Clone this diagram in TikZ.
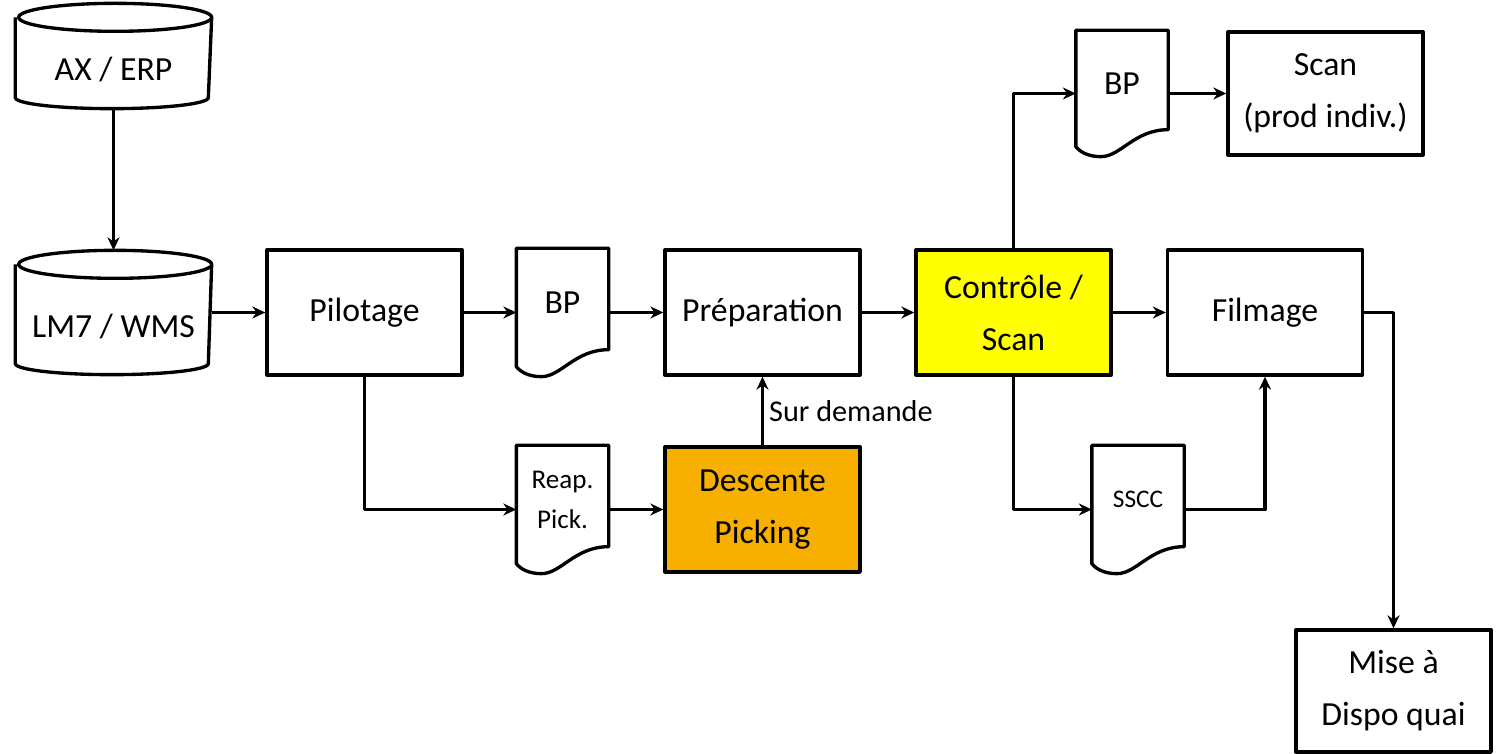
\documentclass[tikz,border=0pt]{standalone}
\usepackage{fontspec}
\setmainfont{Carlito}
\usetikzlibrary{arrows.meta}
\definecolor{jaune}{RGB}{255,255,0}
\definecolor{ambre}{RGB}{247,176,0}
\begin{document}
\begin{tikzpicture}[line join=round,>={Stealth[length=1.3mm,width=1.2mm]},line width=0.95pt,
	font=\fontsize{9.6}{14.8}\selectfont,
	proc/.style={draw,minimum width=1.95cm,minimum height=1.25cm,align=center,inner sep=0pt},
	docu/.style={minimum width=0.89cm,minimum height=1.25cm,align=center,inner sep=0pt,
		execute at end node={\rule[-2mm]{0pt}{2mm}}},
	dbase/.style={minimum width=1.93cm,align=center,inner sep=0pt}]
	\useasboundingbox (0,0) rectangle (15.01,-7.54);
	% bases de donnees
	\node[dbase,minimum height=0.74cm] (erp) at (1.135,-0.70) {AX / ERP};
	\node[dbase,minimum height=0.93cm] (wms) at (1.135,-3.265) {LM7 / WMS};
	\foreach \c in {erp,wms}
	{\draw ([yshift=1.4mm]\c.north west) -- ([yshift=1.1mm]\c.south west) arc[start angle=180,end angle=360,x radius=0.965cm,y radius=1.1mm] -- ([yshift=1.4mm]\c.north east) arc[start angle=0,end angle=360,x radius=0.965cm,y radius=1.4mm];}
	% etapes
	\node[proc] (pilot) at (3.645,-3.125) {Pilotage};
	\node[docu] (bpA) at (5.625,-3.125) {BP};
	\node[proc] (prep) at (7.625,-3.125) {Préparation};
	\node[proc,fill=jaune] (ctrl) at (10.135,-3.125) {Contrôle /\\Scan};
	\node[proc] (film) at (12.65,-3.125) {Filmage};
	\node[docu,minimum height=1.23cm] (bpB) at (11.22,-0.935) {BP};
	\node[proc,minimum height=1.23cm] (scan) at (13.255,-0.935) {Scan\\(prod indiv.)};
	\node[docu,font=\fontsize{7.7}{11.4}\selectfont] (reap) at (5.625,-5.095) {Reap.\\Pick.};
	\node[proc,fill=ambre] (desc) at (7.625,-5.095) {Descente\\Picking};
	\node[docu,font=\fontsize{7.2}{9}\selectfont] (sscc) at (11.38,-5.095) {SSCC};
	\node[proc,minimum height=1.22cm] (mise) at (13.935,-6.91) {Mise à\\Dispo quai};
	% documents (bas ondule)
	\foreach \d in {bpA,bpB,reap,sscc}
	{\draw (\d.north west) -- (\d.north east) -- ([yshift=2.7mm]\d.south east) .. controls ([xshift=-3.4mm,yshift=2.7mm]\d.south east) and ([xshift=4.5mm]\d.south west) .. ([xshift=2.5mm]\d.south west) .. controls ([xshift=1.2mm]\d.south west) and ([xshift=0.4mm,yshift=0.5mm]\d.south west) .. ([yshift=1mm]\d.south west) -- cycle;}
	% liaisons
	\draw[->] (erp.south) -- ([yshift=2.8mm]wms.north);
	\draw[->] (wms.east |- pilot.west) -- (pilot.west);
	\draw[->] (pilot.east) -- (bpA.west);
	\draw[->] (bpA.east) -- (prep.west);
	\draw[->] (prep.east) -- (ctrl.west);
	\draw[->] (ctrl.east) -- (film.west);
	\draw[->] (pilot.south) |- (reap.west);
	\draw[->] (reap.east) -- (desc.west);
	\draw[->] (desc.north) -- node[right,inner sep=0.5mm,font=\fontsize{8.6}{10}\selectfont]{Sur demande} (prep.south);
	\draw[->] (ctrl.north) |- (bpB.west);
	\draw[->] (bpB.east) -- (scan.west);
	\draw[->] (ctrl.south) |- (sscc.west);
	\draw[->] (sscc.east) -| (film.south);
	\draw[->] (film.east) -| (mise.north);
\end{tikzpicture}
\end{document}
